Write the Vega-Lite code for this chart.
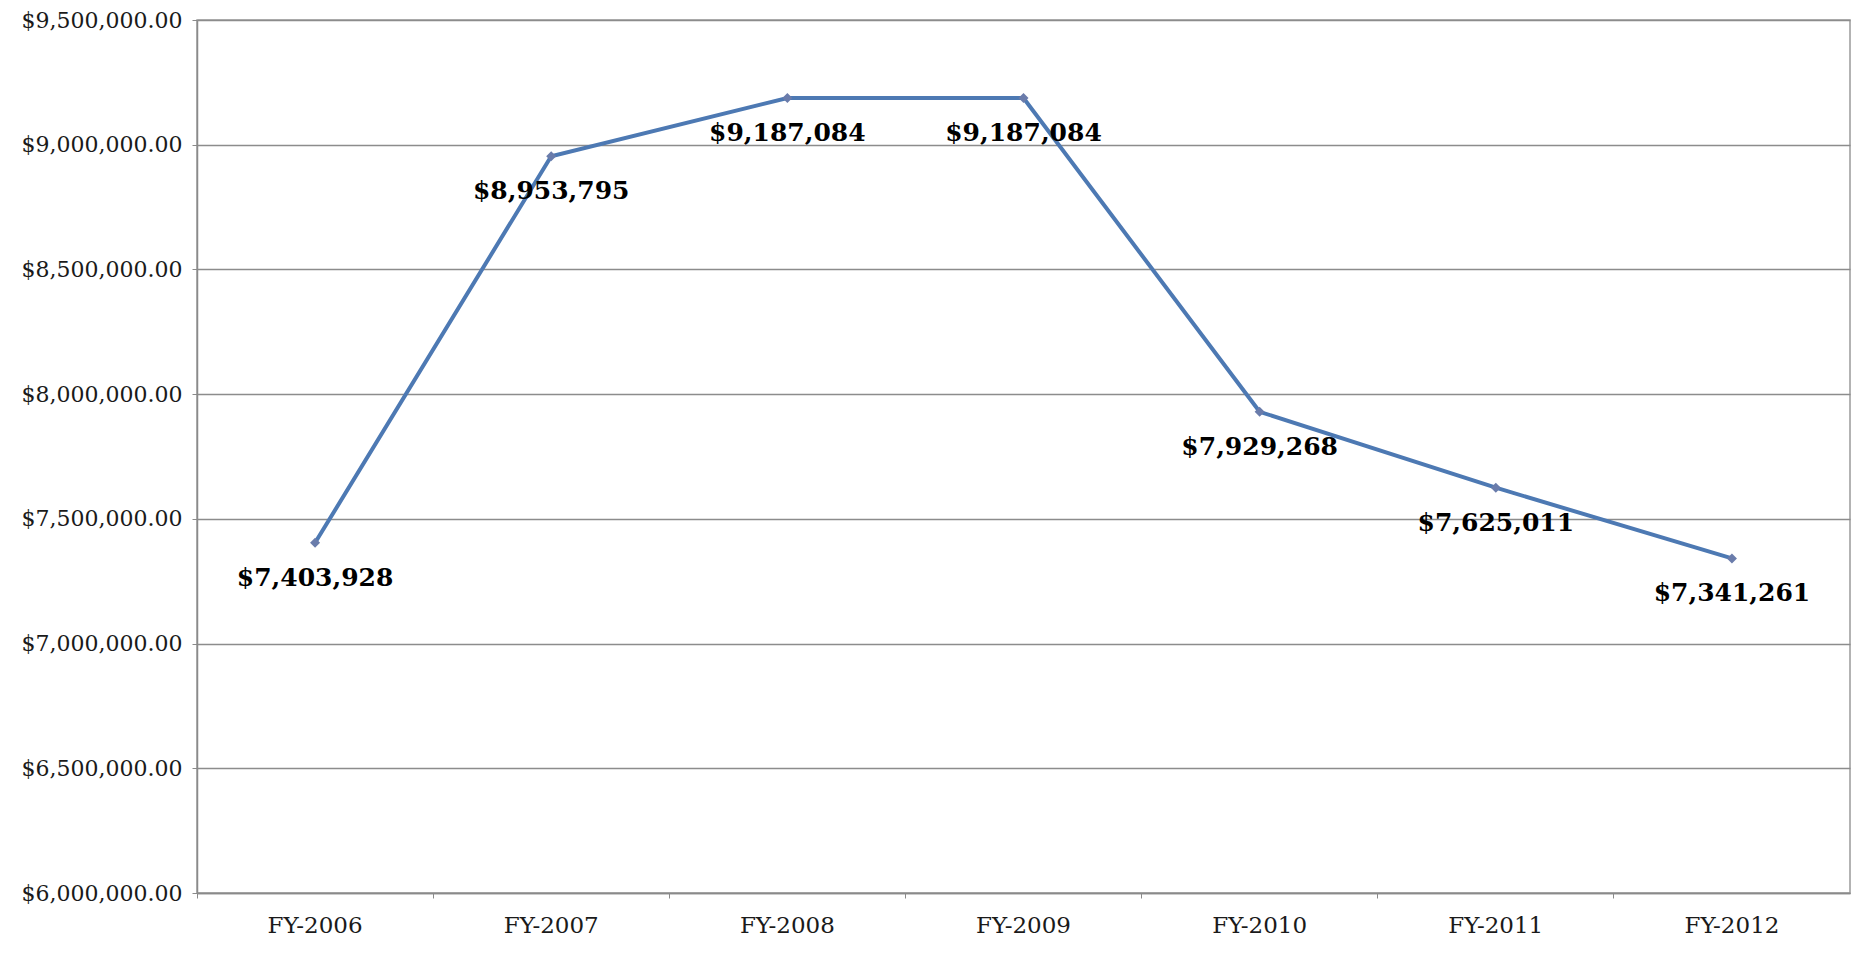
{
  "$schema": "https://vega.github.io/schema/vega-lite/v6.json",
  "width": 1653,
  "height": 873,
  "autosize": {"type": "none"},
  "padding": {"left": 197, "top": 20, "right": 23, "bottom": 67},
  "background": "white",
  "config": {
    "view": {"stroke": "#9a9a9a", "strokeWidth": 1.5},
    "font": "DejaVu Serif"
  },
  "data": {
    "values": [
      {"year": "FY-2006", "amount": 7403928, "label": "$7,403,928"},
      {"year": "FY-2007", "amount": 8953795, "label": "$8,953,795"},
      {"year": "FY-2008", "amount": 9187084, "label": "$9,187,084"},
      {"year": "FY-2009", "amount": 9187084, "label": "$9,187,084"},
      {"year": "FY-2010", "amount": 7929268, "label": "$7,929,268"},
      {"year": "FY-2011", "amount": 7625011, "label": "$7,625,011"},
      {"year": "FY-2012", "amount": 7341261, "label": "$7,341,261"}
    ]
  },
  "encoding": {
    "x": {
      "field": "year",
      "type": "ordinal",
      "scale": {"type": "band", "paddingInner": 0, "paddingOuter": 0},
      "axis": {
        "title": null,
        "labelAngle": 0,
        "labelFont": "DejaVu Serif",
        "labelFontSize": 23,
        "labelColor": "#1a1a1a",
        "labelPadding": 16,
        "domainColor": "#8a8a8a",
        "domainWidth": 1.5,
        "tickColor": "#8a8a8a",
        "tickSize": 5,
        "bandPosition": 0,
        "grid": false
      }
    },
    "y": {
      "field": "amount",
      "type": "quantitative",
      "scale": {"domain": [6000000, 9500000], "nice": false, "zero": false},
      "axis": {
        "title": null,
        "values": [6000000, 6500000, 7000000, 7500000, 8000000, 8500000, 9000000, 9500000],
        "format": "$,.2f",
        "labelFont": "DejaVu Serif",
        "labelFontSize": 22,
        "labelColor": "#1a1a1a",
        "labelPadding": 10,
        "domainColor": "#8a8a8a",
        "domainWidth": 1.5,
        "tickColor": "#8a8a8a",
        "tickSize": 5,
        "grid": true,
        "gridColor": "#8c8c8c",
        "gridWidth": 1.5
      }
    }
  },
  "layer": [
    {
      "mark": {"type": "line", "color": "#4d79b3", "strokeWidth": 4}
    },
    {
      "mark": {"type": "point", "shape": "diamond", "filled": true, "color": "#6a7cab", "size": 100, "opacity": 1}
    },
    {
      "mark": {"type": "text", "font": "DejaVu Serif", "fontSize": 25, "fontWeight": "bold", "color": "#000000", "dy": 35},
      "encoding": {"text": {"field": "label"}}
    }
  ]
}
